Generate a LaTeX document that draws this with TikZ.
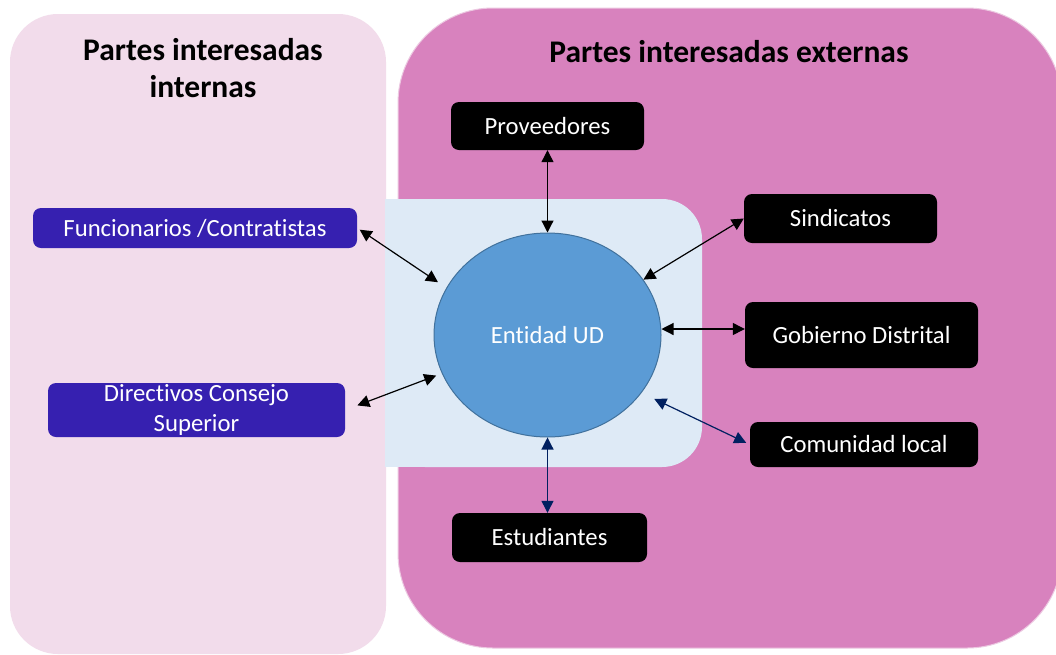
\documentclass[tikz,border=0pt]{standalone}
\usepackage{fontspec}
\setmainfont[Ligatures=NoCommon]{Carlito}
\usetikzlibrary{shapes.geometric,arrows.meta}
\definecolor{lpanel}{RGB}{242,220,235}
\definecolor{rpanel}{RGB}{216,130,190}
\definecolor{rpaneledge}{RGB}{236,200,225}
\definecolor{lblue}{RGB}{222,234,246}
\definecolor{circfill}{RGB}{91,155,213}
\definecolor{circedge}{RGB}{65,113,156}
\definecolor{indigo}{RGB}{54,32,176}
\definecolor{navy}{RGB}{0,32,96}
\begin{document}
\begin{tikzpicture}[x=1pt,y=-1pt,
  boxtext/.style={text=white, rounded corners=8pt, inner sep=0pt, align=center,
    font=\fontsize{24.7}{30}\selectfont},
  blackbox/.style={boxtext, fill=black},
  bluebox/.style={boxtext, fill=indigo},
  titletext/.style={align=center, font=\fontsize{31.5}{37}\selectfont\bfseries, text=black},
  conn/.style={{Triangle[length=12pt,width=12pt]}-{Triangle[length=12pt,width=12pt]}, line width=1.2pt, draw=black},
  navyconn/.style={conn, draw=navy, color=navy}
]
\useasboundingbox (0,0) rectangle (1056,654);
\clip (0,0) rectangle (1056,654);
\fill[white] (0,0) rectangle (1056,654);
% panels
\fill[lpanel, rounded corners=48pt] (10,14) rectangle (386,654);
\filldraw[fill=rpanel, draw=rpaneledge, line width=1pt, rounded corners=95pt] (398,8) rectangle (1062,648);
% light blue block
\fill[lblue, rounded corners=40pt] (385,199) rectangle (702,467);
\fill[lblue] (385,199) rectangle (500,467);
% titles
\node[titletext] (tint) at (203,68) {Partes interesadas\\internas};
\node[titletext] (text) at (729,52) {Partes interesadas externas};
% central entity
\node[ellipse, fill=circfill, draw=circedge, line width=1pt, minimum width=227pt, minimum height=204pt, inner sep=0pt,
  text=white, font=\fontsize{24.7}{30}\selectfont] (ent) at (547.5,335) {Entidad UD};
% external boxes
\node[blackbox, minimum width=193pt, minimum height=48pt] (prov) at (547.5,126) {Proveedores};
\node[blackbox, minimum width=193pt, minimum height=49pt] (sind) at (840.5,218.5) {Sindicatos};
\node[blackbox, minimum width=233pt, minimum height=66pt] (gob) at (861.5,335) {Gobierno Distrital};
\node[blackbox, minimum width=228pt, minimum height=45pt] (com) at (864,444.5) {Comunidad local};
\node[blackbox, minimum width=195pt, minimum height=49pt] (est) at (549.5,537.5) {Estudiantes};
% internal boxes
\node[bluebox, minimum width=324pt, minimum height=40pt] (func) at (195,228) {Funcionarios /Contratistas};
\node[bluebox, minimum width=297pt, minimum height=54pt] (dir) at (196.5,410) {Directivos Consejo\\Superior};
% connectors
\draw[conn] (prov.south) -- (ent.north);
\draw[conn, shorten <=3pt, shorten >=10pt] (func.east) -- (ent.155);
\draw[conn, shorten <=13pt, shorten >=6pt] (dir.east) -- (ent.200);
\draw[conn] (sind.west) -- (ent.30);
\draw[conn] ([yshift=6pt]gob.west) -- ([yshift=6pt]ent.east);
\draw[navyconn, shorten >=4pt] (ent.-31) ++(12,7) coordinate (comend) (comend) -- (com.west);
\draw[navyconn] (ent.south) -- (ent.south |- est.north);
\end{tikzpicture}
\end{document}
